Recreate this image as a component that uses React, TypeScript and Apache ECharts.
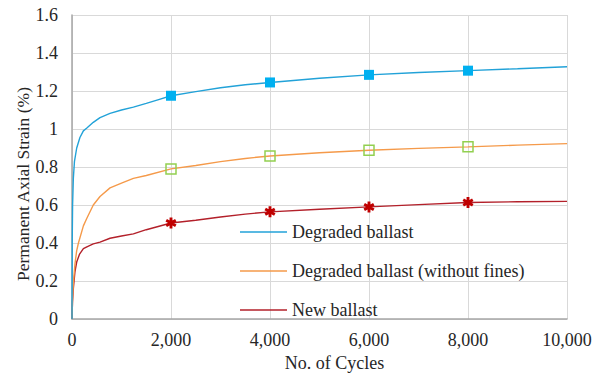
import React, { useEffect, useRef } from "react";
import * as echarts from "echarts";

const seriesNames = ["Degraded ballast", "Degraded ballast (without fines)", "New ballast"];
const markerCycles = [2000, 4000, 6000, 8000];

const degradedX = [0, 5, 12, 27, 50, 95, 160, 230, 300, 430, 566, 768, 1000, 1240, 1500, 1750, 2000, 2500, 3000, 3500, 4000, 5000, 6000, 7000, 8000, 9000, 10000];
const degradedY = [0, 0.42, 0.6, 0.74, 0.83, 0.9, 0.955, 0.99, 1.005, 1.035, 1.06, 1.082, 1.1, 1.115, 1.135, 1.155, 1.175, 1.197, 1.217, 1.233, 1.245, 1.267, 1.285, 1.297, 1.307, 1.317, 1.328];

const noFinesX = [0, 10, 27, 60, 95, 130, 230, 300, 430, 566, 768, 1000, 1240, 1500, 2000, 2500, 3000, 3500, 4000, 5000, 6000, 7000, 8000, 9000, 10000];
const noFinesY = [0, 0.1, 0.19, 0.29, 0.36, 0.4, 0.49, 0.53, 0.6, 0.645, 0.69, 0.715, 0.74, 0.755, 0.79, 0.808, 0.828, 0.845, 0.858, 0.875, 0.888, 0.898, 0.906, 0.915, 0.923];

const newX = [0, 10, 27, 60, 95, 150, 230, 300, 430, 566, 768, 1000, 1240, 1500, 2000, 2500, 3000, 3500, 4000, 5000, 6000, 7000, 8000, 9000, 10000];
const newY = [0, 0.09, 0.16, 0.25, 0.3, 0.34, 0.37, 0.38, 0.395, 0.405, 0.425, 0.437, 0.448, 0.47, 0.505, 0.52, 0.537, 0.552, 0.564, 0.578, 0.59, 0.602, 0.613, 0.617, 0.619];

const FONT = "Liberation Serif";

const starPath =
  "path://M-1.3,-5 L1.3,-5 L1.3,5 L-1.3,5 Z " +
  "M4.95,1.37 L3.65,3.63 L-4.95,-1.37 L-3.65,-3.63 Z " +
  "M3.65,-3.63 L4.95,-1.37 L-3.65,3.63 L-4.95,1.37 Z";

function buildData(xs: number[], ys: number[], marker: any) {
  return xs.map((x, i) => {
    if (markerCycles.indexOf(x) >= 0) {
      return { value: [x, ys[i]], ...marker };
    }
    return { value: [x, ys[i]] };
  });
}

function fmtThousands(v: number) {
  return String(v).replace(/\B(?=(\d{3})+(?!\d))/g, ",");
}

export default function App() {
  const ref = useRef<HTMLDivElement>(null);
  useEffect(() => {
    if (!ref.current) return;
    const chart = echarts.init(ref.current, null, { renderer: "svg" });
    const lineColors = ["#22a2d8", "#f59a4a", "#b3202a"];
    const markers = [
      { symbol: "rect", symbolSize: 10, itemStyle: { color: "#00b0f0", borderWidth: 0 } },
      { symbol: "rect", symbolSize: 10, itemStyle: { color: "rgba(255,255,255,0)", borderColor: "#92d050", borderWidth: 1.5 } },
      { symbol: starPath, symbolSize: [11, 11], itemStyle: { color: "#c00000", borderWidth: 0 } },
    ];
    const xsList = [degradedX, noFinesX, newX];
    const ysList = [degradedY, noFinesY, newY];
    chart.setOption({
      animation: false,
      backgroundColor: "#ffffff",
      textStyle: { fontFamily: FONT },
      grid: { left: 72, right: 36, top: 15, bottom: 52, containLabel: false },
      legend: {
        data: seriesNames,
        orient: "vertical",
        left: 240,
        top: 222,
        padding: 0,
        itemGap: 19,
        itemWidth: 47,
        itemHeight: 1.5,
        icon: "rect",
        textStyle: { fontFamily: FONT, fontSize: 18, color: "#262626", lineHeight: 20 },
      },
      xAxis: {
        type: "value",
        min: 0,
        max: 10000,
        interval: 2000,
        name: "No. of Cycles",
        nameLocation: "middle",
        nameGap: 35,
        nameTextStyle: { fontFamily: FONT, fontSize: 18, color: "#262626", padding: [0, 0, 0, 30] },
        axisLine: { show: true, lineStyle: { color: "#a6a6a6", width: 1.5 } },
        axisTick: { show: false },
        axisLabel: { fontFamily: FONT, fontSize: 18, color: "#262626", margin: 12, formatter: (v: number) => fmtThousands(v) },
        splitLine: { show: true, lineStyle: { color: "#d9d9d9", width: 1 } },
      },
      yAxis: {
        type: "value",
        min: 0,
        max: 1.6,
        interval: 0.2,
        axisLine: { show: true, lineStyle: { color: "#a6a6a6", width: 1.5 } },
        axisTick: { show: false },
        axisLabel: { fontFamily: FONT, fontSize: 18, color: "#262626", margin: 14 },
        splitLine: { show: true, lineStyle: { color: "#d9d9d9", width: 1 } },
      },
      graphic: [
        {
          type: "text",
          x: 23,
          y: 184,
          rotation: Math.PI / 2,
          style: {
            text: "Permanent Axial Strain (%)",
            fontFamily: FONT,
            fontSize: 17.5,
            fill: "#262626",
            align: "center",
            verticalAlign: "middle",
          },
        },
      ],
      series: seriesNames.map((name, k) => ({
        name,
        type: "line",
        symbol: "none",
        showSymbol: true,
        showAllSymbol: true,
        color: lineColors[k],
        lineStyle: { color: lineColors[k], width: 1.4 },
        itemStyle: { color: lineColors[k] },
        z: 3 - k,
        data: buildData(xsList[k], ysList[k], markers[k]),
      })),
    });
    return () => chart.dispose();
  }, []);
  return (
    <div
      ref={ref}
      style={{ position: "fixed", left: 0, top: 0, width: 603, height: 377 }}
    />
  );
}
